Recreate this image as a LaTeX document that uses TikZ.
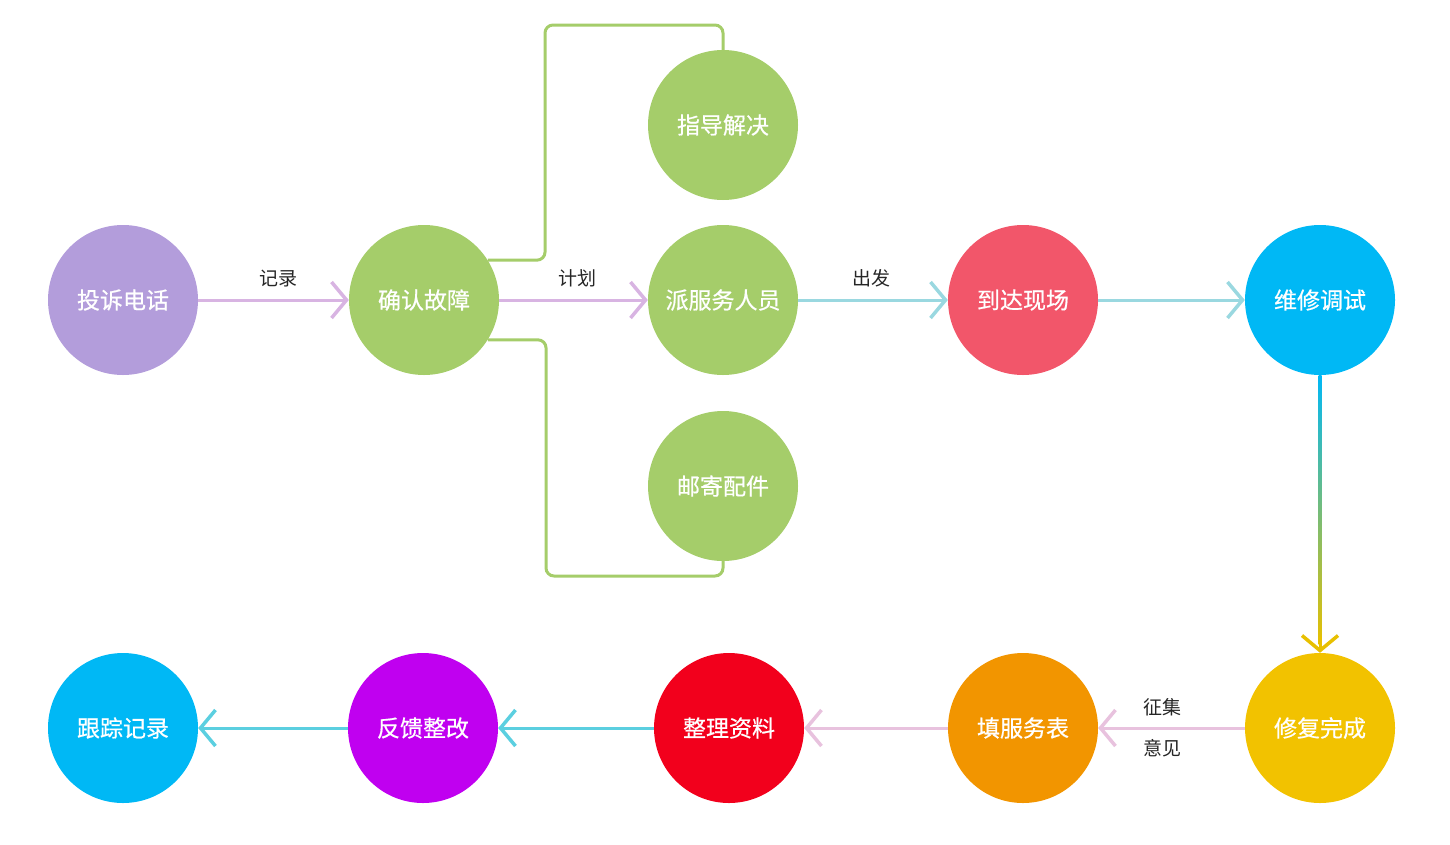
\documentclass[tikz,border=0pt]{standalone}
\usepackage{fontspec}
\newfontfamily\cjk{Noto Sans CJK SC}
\newfontfamily\cjkb[FakeBold=0.6]{Noto Sans CJK SC}
\usetikzlibrary{arrows.meta}
\usetikzlibrary{calc}

% Colores del diagrama
\definecolor{morado}{HTML}{B39DDB}
\definecolor{verde}{HTML}{A5CD6A}
\definecolor{rosa}{HTML}{F2566A}
\definecolor{celeste}{HTML}{00B8F5}
\definecolor{amarillo}{HTML}{F2C200}
\definecolor{naranja}{HTML}{F29500}
\definecolor{rojo}{HTML}{F2001C}
\definecolor{violeta}{HTML}{C000F0}
\definecolor{lila}{HTML}{D8B4E2}
\definecolor{lilaclaro}{HTML}{E8C2DE}
\definecolor{aguaclaro}{HTML}{9AD8E0}
\definecolor{agua}{HTML}{5BCFE0}
\definecolor{gradfin}{HTML}{E8C000}

\begin{document}
\begin{tikzpicture}[
        x=1pt, y=-1pt, % Coordenadas en pixeles, y hacia abajo
        font=\cjk, % Fuente para todas las etiquetas
        paso/.style={circle, minimum size=150pt, inner sep=0pt, text=white,
        font=\cjkb\fontsize{23}{27}\selectfont}, % Estilo para los circulos
        flecha/.style={-{Straight Barb[length=15pt, width=36pt, line width=3.5pt]}, line width=3pt}, % Estilo para las flechas
        etiqueta/.style={font=\cjk\fontsize{19}{23}\selectfont, text=black!85}, % Estilo para los textos
        rama/.style={draw=verde, line width=3pt, rounded corners=8pt} % Estilo para las ramas
    ]
        \useasboundingbox (0,0) rectangle (1450,844);

        % --- Fila superior ---
        \node[paso, fill=morado] (queja) at (123,300) {投诉电话};
        \node[paso, fill=verde] (confirma) at (424,300) {确认故障};
        \node[paso, fill=verde] (guia) at (723,125) {指导解决};
        \node[paso, fill=verde] (envio) at (723,300) {派服务人员};
        \node[paso, fill=verde] (correo) at (723,486) {邮寄配件};
        \node[paso, fill=rosa] (llegada) at (1023,300) {到达现场};
        \node[paso, fill=celeste] (repara) at (1320,300) {维修调试};

        % --- Fila inferior ---
        \node[paso, fill=amarillo] (hecho) at (1320,728) {修复完成};
        \node[paso, fill=naranja] (tabla) at (1023,728) {填服务表};
        \node[paso, fill=rojo] (datos) at (729,728) {整理资料};
        \node[paso, fill=violeta] (mejora) at (423,728) {反馈整改};
        \node[paso, fill=celeste] (seguir) at (123,728) {跟踪记录};

        % --- Ramas verdes ---
        \draw[rama] (confirma.32) -| (545,25) -| (guia.north);
        \draw[rama] (confirma.-32) -| (546,576) -| (correo.south);

        % --- Flechas de la fila superior ---
        \draw[flecha, lila] (queja) -- (confirma) node[etiqueta, pos=0.53, above=8pt] {记录};
        \draw[flecha, lila] (confirma) -- (envio) node[etiqueta, pos=0.53, above=8pt] {计划};
        \draw[flecha, aguaclaro] (envio) -- (llegada) node[etiqueta, pos=0.49, above=8pt] {出发};
        \draw[flecha, aguaclaro] (llegada) -- (repara);

        % --- Flecha vertical con degradado ---
        \shade[top color=celeste, bottom color=gradfin]
            ($(repara.south)+(-1.5,0)$) rectangle ($(hecho.north)+(1.5,-8)$);
        \draw[flecha, gradfin] ($(hecho.north)+(0,-16)$) -- (hecho.north);

        % --- Flechas de la fila inferior ---
        \draw[flecha, lilaclaro] (hecho) -- (tabla)
            node[etiqueta, pos=0.56, above=7pt] {征集}
            node[etiqueta, pos=0.56, below=7pt] {意见};
        \draw[flecha, lilaclaro] (tabla) -- (datos);
        \draw[flecha, agua] (datos) -- (mejora);
        \draw[flecha, agua] (mejora) -- (seguir);

    \end{tikzpicture}
\end{document}
